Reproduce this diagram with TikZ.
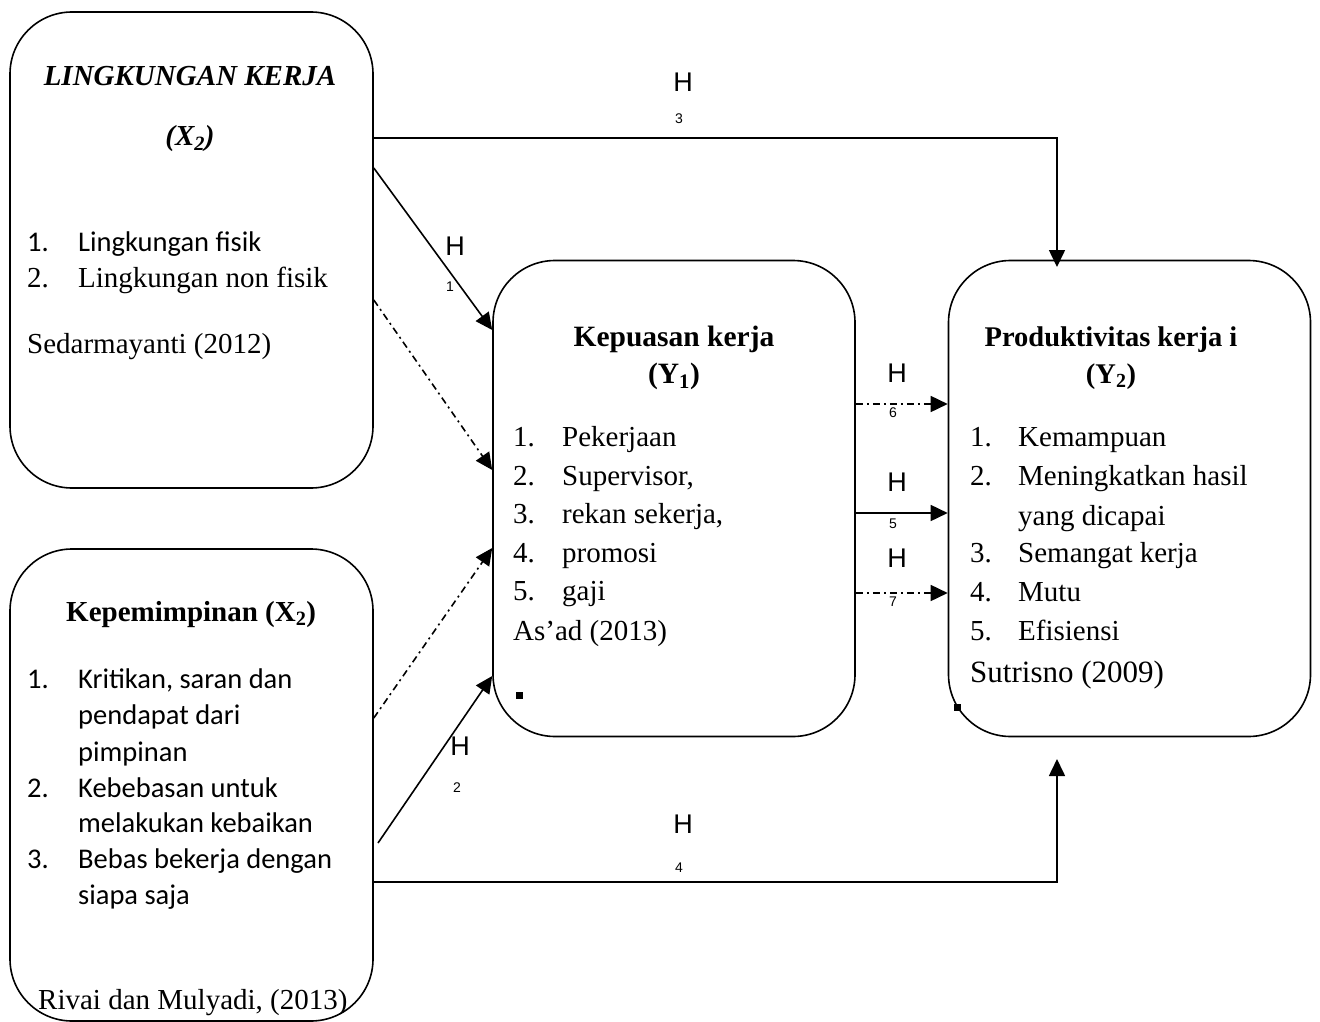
\documentclass[tikz,border=0pt]{standalone}
\usepackage{fontspec}
\setmainfont{Liberation Serif}
\newfontfamily\calib{Carlito}
\newfontfamily\arialf{Liberation Sans}
\usetikzlibrary{arrows.meta}
\begin{document}
\begin{tikzpicture}[x=1pt,y=-1pt,
  box/.style={draw,line width=1.6pt,rounded corners=62pt,inner sep=0pt},
  conn/.style={line width=1.6pt},
  arr/.style={conn,-{Triangle[length=17pt,width=16pt]}},
  dd/.style={dash pattern=on 7pt off 4pt on 2pt off 4pt},
  txt/.style={inner sep=0pt,anchor=base west,font=\fontsize{29}{34}\selectfont},
  ctxt/.style={inner sep=0pt,anchor=base,font=\fontsize{29}{34}\selectfont},
  ctx/.style={inner sep=0pt,anchor=base west,font=\calib\fontsize{28.5}{34}\selectfont},
  hl/.style={inner sep=0pt,anchor=base,font=\arialf\fontsize{27}{30}\selectfont},
  hs/.style={inner sep=0pt,anchor=base,font=\arialf\fontsize{14}{16}\selectfont},
  sq/.style={fill=black,inner sep=0pt,minimum size=7pt}]
\useasboundingbox (0,0) rectangle (1320,1022);
% boxes
\node[box,minimum width=363pt,minimum height=476pt] (x1) at (191.5,250) {};
\node[box,minimum width=363pt,minimum height=472pt] (x2) at (191.5,785) {};
\node[box,minimum width=362pt,minimum height=476pt] (y1) at (674,498.5) {};
\node[box,minimum width=362pt,minimum height=476pt] (y2) at (1129.5,498.5) {};
% box 1 texts
\node[ctxt,font=\bfseries\itshape\fontsize{29}{34}\selectfont] (t1) at (190,86) {LINGKUNGAN KERJA};
\node[ctxt,font=\bfseries\itshape\fontsize{29}{34}\selectfont] (t2) at (190,146) {(X\textsubscript{2})};
\node[ctx] (a1n) at (27,251) {1.};
\node[ctx] (a1) at (78,251) {Lingkungan fisik};
\node[txt] (a2n) at (27,287) {2.};
\node[txt] (a2) at (78,287) {Lingkungan non fisik};
\node[txt] (a3) at (27,353) {Sedarmayanti (2012)};
% box 2 texts
\node[txt,font=\bfseries\fontsize{29}{34}\selectfont] (b0) at (66,621) {Kepemimpinan (X\textsubscript{2})};
\node[ctx] (b1n) at (27,688) {1.};
\node[ctx] (b1) at (78,688) {Kritikan, saran dan};
\node[ctx] (b1b) at (78,724) {pendapat dari};
\node[ctx] (b1c) at (78,761) {pimpinan};
\node[ctx] (b2n) at (27,797) {2.};
\node[ctx] (b2) at (78,797) {Kebebasan untuk};
\node[ctx] (b2b) at (78,832) {melakukan kebaikan};
\node[ctx] (b3n) at (27,868) {3.};
\node[ctx] (b3) at (78,868) {Bebas bekerja dengan};
\node[ctx] (b3b) at (78,904) {siapa saja};
\node[txt] (b4) at (38,1009) {Rivai dan Mulyadi, (2013)};
% box 3 texts
\node[ctxt,font=\bfseries\fontsize{29.5}{34}\selectfont] (c0) at (674,346) {Kepuasan kerja};
\node[ctxt,font=\bfseries\fontsize{29.5}{34}\selectfont] (c0b) at (674,383) {(Y\textsubscript{1})};
\foreach \n/\t/\y in {1/Pekerjaan/446,2/{Supervisor,}/485,3/{rekan sekerja,}/523,4/promosi/562,5/gaji/600}{
  \node[txt] (c\n n) at (513,\y) {\n.};
  \node[txt] (c\n) at (562,\y) {\t};
}
\node[txt] (c6) at (513,640) {As’ad (2013)};
\node[sq] (sq1) at (519,695) {};
% box 4 texts
\node[ctxt,font=\bfseries\fontsize{28.5}{34}\selectfont] (d0) at (1111,346) {Produktivitas kerja i};
\node[ctxt,font=\bfseries\fontsize{28.5}{34}\selectfont] (d0b) at (1111,383) {(Y\textsubscript{2})};
\node[txt] (d1n) at (970,446) {1.};
\node[txt] (d1) at (1018,446) {Kemampuan};
\node[txt] (d2n) at (970,485) {2.};
\node[txt] (d2) at (1018,485) {Meningkatkan hasil};
\node[txt] (d2b) at (1018,525) {yang dicapai};
\node[txt] (d3n) at (970,562) {3.};
\node[txt] (d3) at (1018,562) {Semangat kerja};
\node[txt] (d4n) at (970,601) {4.};
\node[txt] (d4) at (1018,601) {Mutu};
\node[txt] (d5n) at (970,640) {5.};
\node[txt] (d5) at (1018,640) {Efisiensi};
\node[txt,font=\fontsize{31}{36}\selectfont] (d6) at (970,682) {Sutrisno (2009)};
\node[sq] (sq2) at (957,707) {};
% connectors
\coordinate (h3c) at (1057,138);
\coordinate (h3e) at (1057,267);
\draw[arr] (x1.east |- h3c) -- (h3c) -- (h3e);
\coordinate (h4c) at (1057,882);
\coordinate (h4e) at (1057,759);
\draw[arr] (x2.east |- h4c) -- (h4c) -- (h4e);
\draw[arr] (x1.east |- 0,168) -- (y1.west |- 0,330);
\draw[arr,dd] (x1.east |- 0,300) -- (y1.west |- 0,470);
\draw[arr,dd] (x2.east |- 0,718) -- (y1.west |- 0,548);
\coordinate (h2s) at (378,843);
\draw[arr] (h2s) -- (y1.west |- 0,676);
\draw[arr,dd] (y1.east |- 0,404) -- (y2.west |- 0,404);
\draw[arr] (y1.east |- 0,513) -- (y2.west |- 0,513);
\draw[arr,dd] (y1.east |- 0,593) -- (y2.west |- 0,593);
% labels
\node[hl] (l3) at (683,92) {H};  \node[hs] (s3) at (679,124) {3};
\node[hl] (l1) at (455,255) {H}; \node[hs] (s1) at (450,291) {1};
\node[hl] (l2) at (460,755) {H}; \node[hs] (s2) at (457,792) {2};
\node[hl] (l4) at (683,833) {H}; \node[hs] (s4) at (679,872) {4};
\node[hl] (l6) at (897,382) {H}; \node[hs] (s6) at (893,417) {6};
\node[hl] (l5) at (897,491) {H}; \node[hs] (s5) at (893,528) {5};
\node[hl] (l7) at (897,567) {H}; \node[hs] (s7) at (893,606) {7};
\end{tikzpicture}
\end{document}
